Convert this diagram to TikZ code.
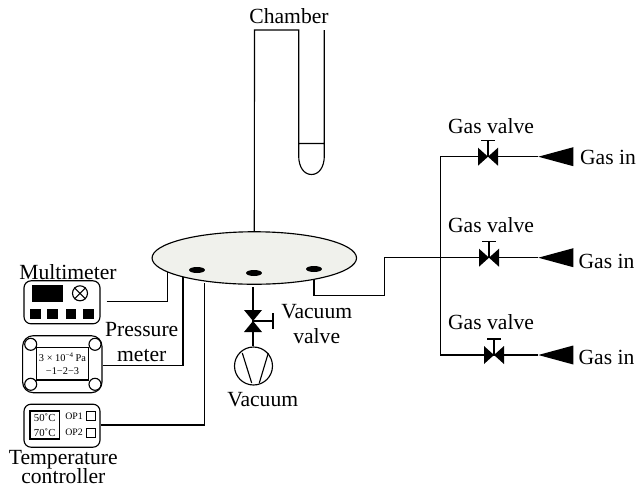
\documentclass[tikz,border=0pt]{standalone}
\usepackage{fontspec}
\setmainfont{Liberation Serif}
\usetikzlibrary{arrows.meta,positioning,shapes.geometric,calc}
\definecolor{diskgray}{HTML}{F0F1EC}

\begin{document}
\begin{tikzpicture}[
    x=0.02cm, y=-0.02cm,
    pipe/.style={draw, line width=0.65pt},
    lbl/.style={inner sep=0pt, align=center, font=\fontsize{12.3}{13.7}\selectfont},
    tiny/.style={inner sep=0pt, align=center, font=\fontsize{5.9}{7.6}\selectfont},
    devbox/.style={draw, line width=0.65pt, rounded corners=4pt, inner sep=0pt,
                   minimum width=1.52cm, minimum height=0.86cm},
    blackbox/.style={fill=black, inner sep=0pt, minimum width=0.21cm, minimum height=0.21cm},
    hole/.style={ellipse, fill=black, inner sep=0pt, minimum width=0.32cm, minimum height=0.12cm},
    corner/.style={circle, draw, fill=white, line width=0.65pt, inner sep=0pt, minimum size=0.24cm},
    opbox/.style={draw, line width=0.65pt, inner sep=0pt, minimum size=0.18cm},
    gasvalve/.pic={
      \fill (-10,-9) -- (10,9) -- (10,-9) -- (-10,9) -- cycle;
      \draw[line width=0.65pt] (0,0) -- (0,-16) (-7,-16) -- (7,-16);
    },
    vacvalve/.pic={
      \fill (-9,-11) -- (9,-11) -- (-9,11) -- (9,11) -- cycle;
      \draw[line width=0.65pt] (0,0) -- (20,0) (20,-8) -- (20,8);
    },
    gastip/.pic={
      \fill (0,0) -- (35,-9.5) -- (35,9.5) -- cycle;
    }
  ]
  \useasboundingbox (0,0) rectangle (637,485);
  %% Chamber tube
  \node[lbl] (chamberlbl) at (289,16) {Chamber};
  \coordinate (tubeA) at (254.5,30);
  \coordinate (tubeB) at (298.7,30);
  \coordinate (tubeC) at (298.7,143.5);
  \coordinate (tubeD) at (324.3,143.5);
  \coordinate (tubeE) at (324.3,30);
  %% Disk and holes
  \node[ellipse, pipe, fill=diskgray, inner sep=0pt, minimum width=4.09cm, minimum height=1.05cm]
    (disk) at (254.3,258) {};
  \node[hole] (hole1) at (197,270) {};
  \node[hole] (hole2) at (254,273) {};
  \node[hole] (hole3) at (314,269) {};
  \draw[pipe] (disk.north) -- (tubeA) -- (tubeB) -- (tubeC);
  \draw[pipe] (tubeE) -- (tubeD) -- (tubeC) -- (298.7,156)
    .. controls (298.7,167) and (304,174.5) .. (311.5,174.5)
    .. controls (319,174.5) and (324.3,167) .. (324.3,156) -- (tubeD);
  %% Multimeter
  \node[lbl] (multilbl) at (68,272) {Multimeter};
  \node[devbox] (multi) at (62,302.3) {};
  \node[fill=black, inner sep=0pt, minimum width=0.61cm, minimum height=0.33cm] (screen) at (47.3,293.3) {};
  \node[circle, draw, line width=0.65pt, inner sep=0pt, minimum size=0.3cm] (lamp) at (80,293.3) {};
  \draw[line width=0.65pt] (lamp.north west) -- (lamp.south east) (lamp.north east) -- (lamp.south west);
  \node[blackbox] (key1) at (35.3,314) {};
  \node[blackbox] (key2) at (52.7,314) {};
  \node[blackbox] (key3) at (71,314) {};
  \node[blackbox] (key4) at (88.3,314) {};
  \coordinate (multiout) at (106.7,301.3);
  \coordinate (multibend) at (167.7,301.3);
  \coordinate (multiin) at (167.7,272);
  \draw[pipe] (multiout) -- (multibend) -- (multiin);
  %% Pressure meter
  \node[lbl] (presslbl) at (141.7,342) {Pressure\\meter};
  \node[devbox, rounded corners=6pt, minimum width=1.586cm, minimum height=1.14cm] (press) at (62.3,364.2) {};
  \node[draw, line width=0.65pt, inner sep=0pt, minimum width=1.03cm, minimum height=0.646cm] (pressin) at (62.5,363.8) {};
  \node[corner] (pc1) at (30.7,344.3) {};
  \node[corner] (pc2) at (95,344.3) {};
  \node[corner] (pc3) at (30.7,384.3) {};
  \node[corner] (pc4) at (95,384.3) {};
  \node[tiny] (pressval) at (62.5,364) {3 × 10\raisebox{2pt}{\fontsize{4}{4}\selectfont −4} Pa\\−1−2−3};
  \coordinate (pressbend) at (183,365.3);
  \coordinate (pressin2) at (183,277);
  \draw[pipe] (press.east |- pressbend) -- (pressbend) -- (pressin2);
  %% Temperature controller
  \node[lbl] (templbl) at (63.3,467) {Temperature\\[-2.6pt]controller};
  \node[devbox] (temp) at (62,425.7) {};
  \node[draw, line width=0.65pt, inner sep=0pt, minimum width=0.586cm, minimum height=0.56cm] (tempin) at (44.7,425) {};
  \node[tiny, font=\fontsize{6.1}{8.2}\selectfont] (tempval) at (44.7,425) {50˚C\\70˚C};
  \node[tiny, font=\fontsize{5.6}{6}\selectfont] (op1) at (74,416) {OP1};
  \node[tiny, font=\fontsize{5.6}{6}\selectfont] (op2) at (74,432.7) {OP2};
  \node[opbox] (op1box) at (91.2,416.3) {};
  \node[opbox] (op2box) at (91.2,433.3) {};
  \coordinate (tempbend) at (204.7,425);
  \coordinate (tempin2) at (204.7,283);
  \draw[pipe] (temp.east |- tempbend) -- (tempbend) -- (tempin2);
  %% Vacuum
  \coordinate (vacstart) at (253,287);
  \coordinate (vacv) at (253,321);
  \node[circle, pipe, inner sep=0pt, minimum size=0.76cm] (pump) at (253.5,366) {};
  \draw[pipe] (vacstart) -- (pump.north -| vacstart);
  \pic at (vacv) {vacvalve};
  \draw[line width=0.65pt] (242.3,353) -- (251.7,383) (268.3,353) -- (259.3,383);
  \node[lbl] (vaclbl) at (262.7,400) {Vacuum};
  \node[lbl] (vacvlbl) at (316.7,324) {Vacuum\\valve};
  %% Gas lines
  \coordinate (port) at (314,279);
  \coordinate (pb1) at (314,295.5);
  \coordinate (pb2) at (384.7,295.5);
  \coordinate (pb3) at (384.7,257.7);
  \coordinate (j1) at (440.7,156.7);
  \coordinate (j2) at (440.7,257.7);
  \coordinate (j3) at (440.7,355);
  \coordinate (v1) at (488,156.7);
  \coordinate (v2) at (489,257.7);
  \coordinate (v3) at (494,355);
  \coordinate (g1) at (538.3,156.7);
  \coordinate (g2) at (538.3,257.7);
  \coordinate (g3) at (538.3,355);
  \draw[pipe] (port) -- (pb1) -- (pb2) -- (pb3) -- (j2);
  \draw[pipe] (g1) -- (j1) -- (j2) -- (j3) -- (g3);
  \draw[pipe] (j2) -- (g2);
  \pic at (v1) {gasvalve};
  \pic at (v2) {gasvalve};
  \pic at (v3) {gasvalve};
  \pic at (g1) {gastip};
  \pic at (g2) {gastip};
  \pic at (g3) {gastip};
  \node[lbl] (gv1) at (491,126) {Gas valve};
  \node[lbl] (gv2) at (491,225) {Gas valve};
  \node[lbl] (gv3) at (491,322) {Gas valve};
  \node[lbl] (in1) at (608,157) {Gas in};
  \node[lbl] (in2) at (606.5,261) {Gas in};
  \node[lbl] (in3) at (606.5,357) {Gas in};
\end{tikzpicture}
\end{document}
